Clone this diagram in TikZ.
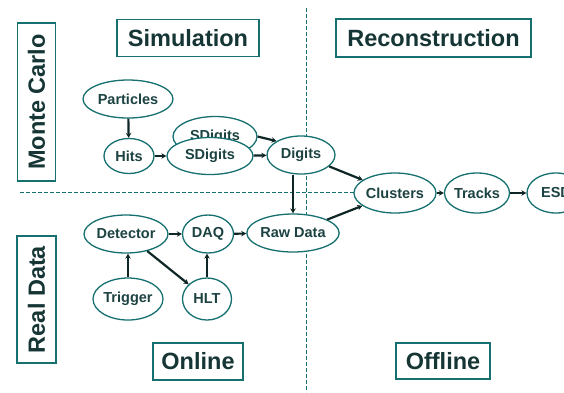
\documentclass[tikz,border=0pt]{standalone}
\usepackage{fontspec}
\setmainfont{Liberation Sans}
\usetikzlibrary{shapes.geometric,arrows.meta}
\definecolor{rim}{RGB}{22,112,112}
\definecolor{ink}{RGB}{28,66,66}
\definecolor{wire}{RGB}{14,38,38}
\tikzset{
  stage/.style={ellipse,draw=rim,line width=1.3pt,fill=white,inner sep=0pt,
    text=ink,font=\bfseries\fontsize{14.5}{16}\selectfont},
  heading/.style={draw=rim,line width=1.3pt,fill=white,inner sep=0pt,
    text=ink!80!black,font=\bfseries\fontsize{23.5}{26}\selectfont},
  divider/.style={draw=rim,line width=1pt,dash pattern=on 4pt off 2pt},
  conn/.style={draw=wire,line width=2.2pt,-{Stealth[length=5pt,width=5.5pt]}}
}
\begin{document}
\begin{tikzpicture}[x=1pt,y=-1pt]
\useasboundingbox (0,0) rectangle (564,392);
% quadrant dividers
\coordinate (vtop) at (306,8);
\coordinate (vbot) at (306,392);
\coordinate (hleft) at (20,192);
\coordinate (hright) at (370,192);
\draw[divider] (vtop) -- (vbot);
\draw[divider] (hleft) -- (hright);

% quadrant headings
\node[heading,minimum width=142pt,minimum height=37pt] (sim) at (188,38) {Simulation};
\node[heading,minimum width=195pt,minimum height=38pt] (reco) at (433.5,38) {Reconstruction};
\node[heading,minimum width=90pt,minimum height=37pt] (online) at (198,361.5) {Online};
\node[heading,minimum width=94pt,minimum height=36pt] (offline) at (443,361) {Offline};
\node[heading,minimum width=38pt,minimum height=158pt] (mc) at (36.5,102) {};
\node[text=ink!80!black,font=\bfseries\fontsize{23.5}{26}\selectfont,rotate=90] (mclabel) at (mc.center) {Monte Carlo};
\node[heading,minimum width=39pt,minimum height=127pt] (real) at (36.5,299.5) {};
\node[text=ink!80!black,font=\bfseries\fontsize{23.5}{26}\selectfont,rotate=90] (reallabel) at (real.center) {Real Data};

% simulation chain
\node[stage,minimum width=90pt,minimum height=38pt] (particles) at (128,99) {Particles};
\node[stage,minimum width=50pt,minimum height=35pt] (hits) at (129,156) {Hits};
\node[stage,minimum width=84pt,minimum height=40pt] (sdback) at (215,136.5) {SDigits};
\node[stage,minimum width=86pt,minimum height=37pt] (sdfront) at (210,156) {SDigits};
\node[stage,minimum width=68pt,minimum height=38pt] (digits) at (301,155) {Digits};

% online chain
\node[stage,minimum width=84pt,minimum height=38pt] (detector) at (126,234) {Detector};
\node[stage,minimum width=51pt,minimum height=38pt] (daq) at (208,234) {DAQ};
\node[stage,minimum width=90pt,minimum height=38pt] (raw) at (293,233) {Raw Data};
\node[stage,minimum width=70pt,minimum height=42pt] (trigger) at (128,299) {Trigger};
\node[stage,minimum width=49pt,minimum height=42pt] (hlt) at (207,299) {HLT};

% reconstruction chain
\node[stage,minimum width=74pt,minimum height=40pt] (clusters) at (395,193) {Clusters};
\node[stage,minimum width=65pt,minimum height=40pt] (tracks) at (477,193) {Tracks};
\node[stage,minimum width=58pt,minimum height=40pt] (esd) at (556,193) {ESD};

% data flow
\draw[conn] (particles) -- (hits);
\draw[conn] (hits) -- (sdfront);
\draw[conn] (sdfront) -- (digits);
\draw[conn] (sdback.east) -- (digits.north west);
\draw[conn] (raw.north |- digits.south) -- (raw.north);
\draw[conn] (digits) -- (clusters);
\draw[conn] (raw) -- (clusters);
\draw[conn] (clusters) -- (tracks);
\draw[conn] (tracks) -- (esd);
\draw[conn] (detector) -- (daq);
\draw[conn] (daq) -- (raw);
\draw[conn] (trigger.north) -- (trigger.north |- detector.south);
\draw[conn] (detector) -- (hlt);
\draw[conn] (hlt.north) -- (hlt.north |- daq.south);
\end{tikzpicture}
\end{document}
